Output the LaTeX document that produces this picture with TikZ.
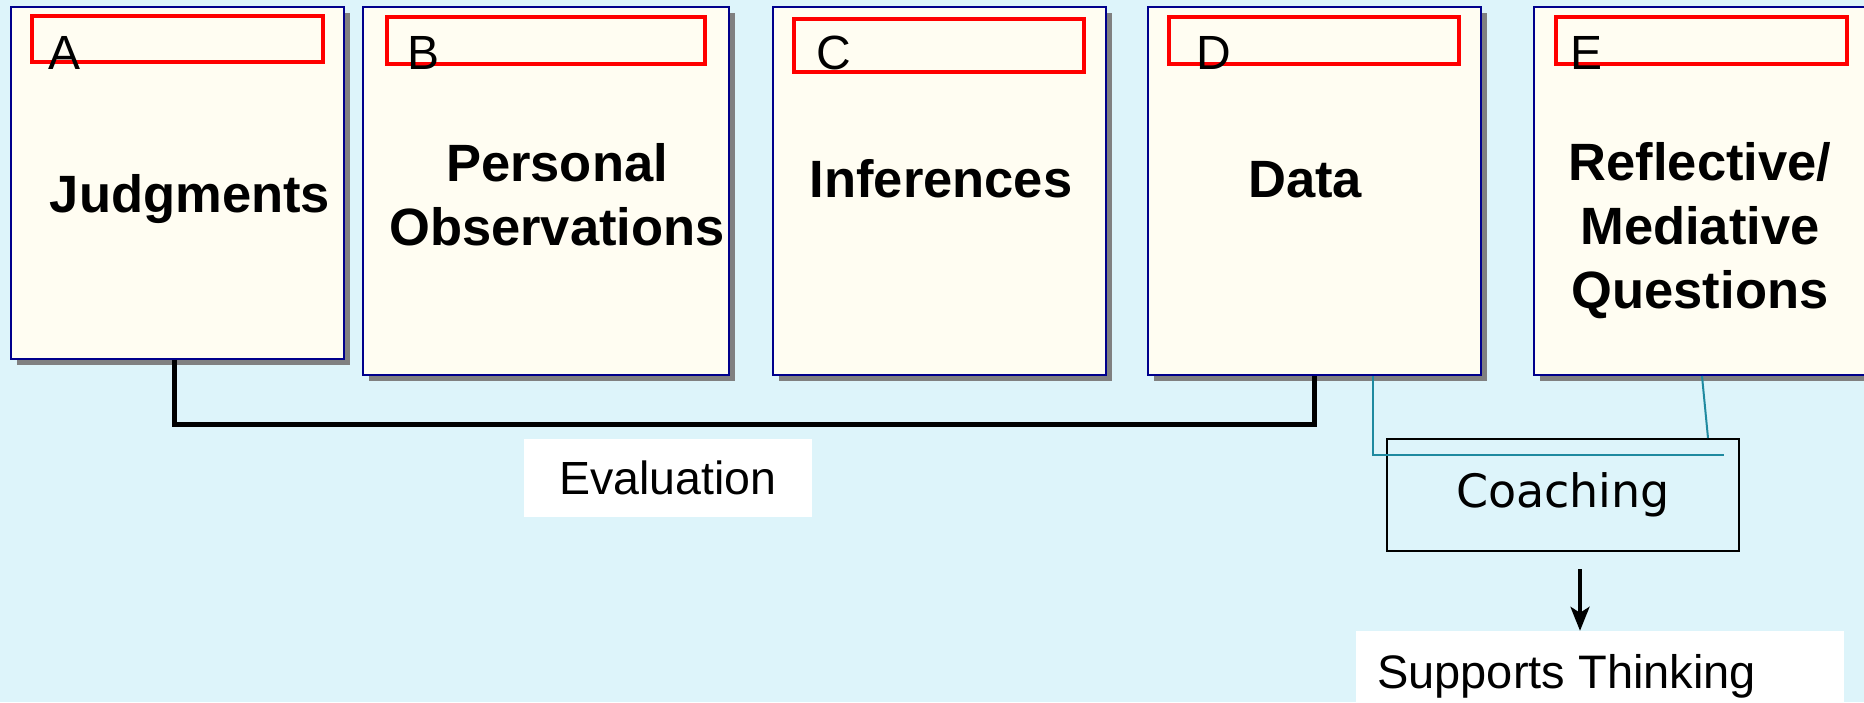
\documentclass[tikz,border=0pt]{standalone}
\usepackage{fontspec}
\setmainfont{Liberation Sans}
\newfontfamily\coachfont{DejaVu Sans}
\usetikzlibrary{shadows,arrows.meta}
\definecolor{bgcyan}{RGB}{221,244,250}
\definecolor{cardfill}{RGB}{255,253,242}
\definecolor{cardline}{RGB}{0,0,140}
\definecolor{tealline}{RGB}{31,138,160}

\begin{document}
\begin{tikzpicture}[x=1pt,y=-1pt,>={Stealth[length=24pt,width=19pt,inset=6pt]},
        card/.style={draw=cardline,line width=2pt,fill=cardfill,inner sep=0pt,
            drop shadow={shadow xshift=6pt,shadow yshift=-6pt,fill=gray,opacity=1}},
        tagbox/.style={draw=red,line width=3.5pt,inner sep=0pt},
        letter/.style={anchor=base west,inner sep=0pt,
            font=\fontsize{48}{58}\selectfont},
        heading/.style={anchor=base,inner sep=0pt,align=center,
            font=\fontsize{52.5}{64}\selectfont\bfseries},
        labelbox/.style={fill=white,inner sep=0pt,
            font=\fontsize{46.5}{56}\selectfont},
        coachline/.style={tealline,line width=2pt}]
        \useasboundingbox (0,0) rectangle (1864,702);
        \clip (0,0) rectangle (1864,702);
        \fill[bgcyan] (0,0) rectangle (1864,702);

        % The five cards with their red tag frames.
        \node[card,minimum width=333pt,minimum height=352pt] (judg) at (177.5,183) {};
        \node[card,minimum width=366pt,minimum height=368pt] (obs) at (546,191) {};
        \node[card,minimum width=333pt,minimum height=368pt] (infer) at (939.5,191) {};
        \node[card,minimum width=333pt,minimum height=368pt] (data) at (1314.5,191) {};
        \node[card,minimum width=336pt,minimum height=368pt] (quest) at (1702,191) {};

        \node[tagbox,minimum width=291pt,minimum height=46pt] (tagA) at (177.5,39) {};
        \node[tagbox,minimum width=318pt,minimum height=47pt] (tagB) at (546,40.5) {};
        \node[tagbox,minimum width=290pt,minimum height=53pt] (tagC) at (939,45.5) {};
        \node[tagbox,minimum width=290pt,minimum height=47pt] (tagD) at (1314,40.5) {};
        \node[tagbox,minimum width=291pt,minimum height=47pt] (tagE) at (1701.5,40.5) {};

        \node[letter] (letA) at (48,69) {A};
        \node[letter] (letB) at (407,69) {B};
        \node[letter] (letC) at (816,69) {C};
        \node[letter] (letD) at (1196,69) {D};
        \node[letter] (letE) at (1570,69) {E};

        % Multi-line headings sit on the baseline of their last line.
        \node[heading] (judgtext) at (190,212) {Judgments};
        \node[heading] (obstext) at (557,245) {Personal\\Observations};
        \node[heading] (infertext) at (941,197) {Inferences};
        \node[heading] (datatext) at (1305,197) {Data};
        \node[heading] (questtext) at (1700,308)
            {Reflective/\\Mediative\\Questions};

        % Evaluation bracket from A to D.
        \draw[gray,line width=5pt,xshift=2pt,yshift=-2pt]
            ([xshift=-3.5pt]judg.south) -- ++(0,64) -| (data.south);
        \draw[line width=5pt]
            ([xshift=-3.5pt]judg.south) -- ++(0,64) -| (data.south);
        \node[labelbox,minimum width=288pt,minimum height=78pt] (eval)
            at (668,478) {Evaluation};

        % Coaching and what it leads to.
        \node[draw,line width=2pt,inner sep=0pt,minimum width=352pt,
            minimum height=112pt,font=\coachfont\fontsize{46}{56}\selectfont]
            (coach) at (1563,495) {Coaching};
        \coordinate (coachend) at (1724,455);
        \draw[coachline] ([xshift=58.5pt]data.south) |- (coachend);
        \draw[coachline] (quest.south) -- ([xshift=145pt]coach.north);

        \node[fill=white,inner sep=0pt,minimum width=488pt,minimum height=100pt]
            (supp) at (1600,681) {};
        \node[anchor=base west,inner sep=0pt,font=\fontsize{47}{56}\selectfont]
            (supptext) at (1377,688) {Supports Thinking};
        \draw[->,line width=3.5pt] ([xshift=17pt,yshift=-17pt]coach.south)
            -- ([xshift=-20pt]supp.north);
\end{tikzpicture}
\end{document}
